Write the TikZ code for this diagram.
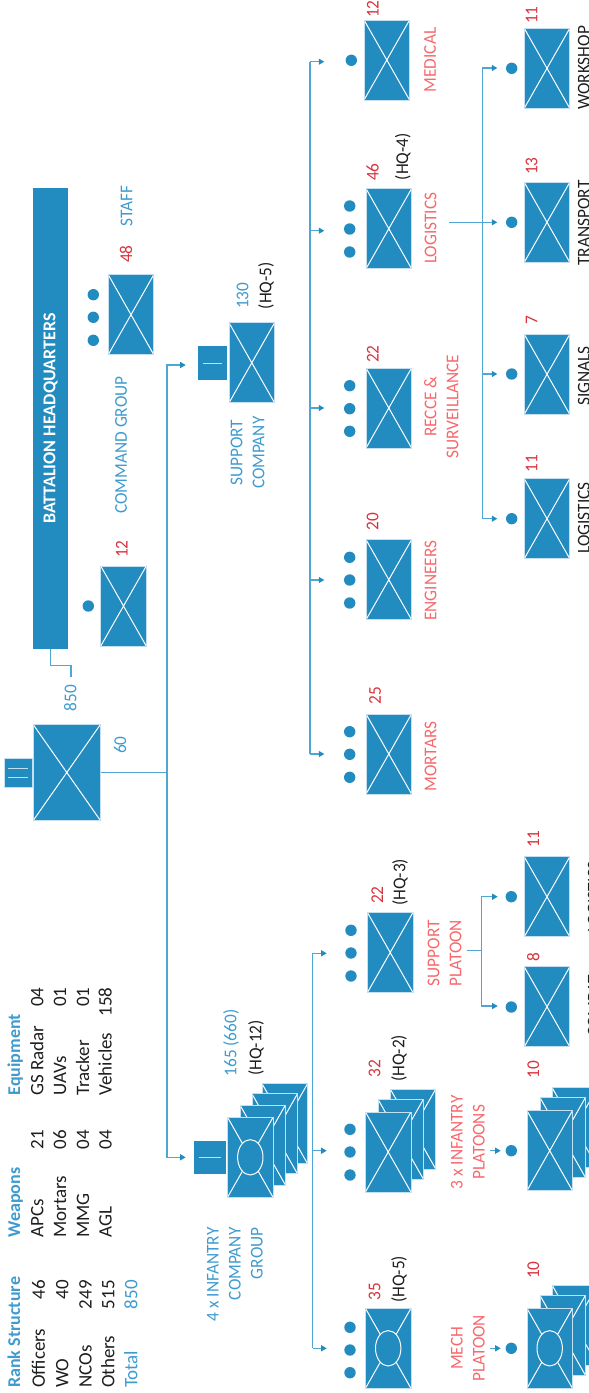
\documentclass[tikz,border=0pt]{standalone}
\usepackage{fontspec}
\setmainfont{Carlito}[FakeStretch=0.96]
\newfontfamily\plainf{Carlito}
\usetikzlibrary{arrows.meta}
\definecolor{unitblue}{HTML}{228BBF}
\definecolor{edgeblue}{HTML}{C4E0F0}
\definecolor{lineblue}{HTML}{4FA5D3}
\definecolor{textblue}{HTML}{3F9BCF}
\definecolor{numred}{HTML}{D8343F}
\definecolor{corald}{HTML}{F7686C}
\definecolor{inkk}{HTML}{1E1E1E}
\tikzset{
  unitbox/.style={rectangle,inner sep=0,minimum width=45.5pt,minimum height=80pt,fill=unitblue,draw=edgeblue,line width=.7pt,
    path picture={\draw[white,line width=1pt] (path picture bounding box.north west)--(path picture bounding box.south east)
      (path picture bounding box.north east)--(path picture bounding box.south west);}},
  mechbox/.style={unitbox,
    path picture={\draw[white,line width=1pt] (path picture bounding box.north west)--(path picture bounding box.south east)
      (path picture bounding box.north east)--(path picture bounding box.south west);
      \draw[white,line width=1pt,fill=unitblue] (path picture bounding box.center) circle [x radius=12.7pt,y radius=17.7pt];}},
  tabbox/.style={rectangle,inner sep=0,fill=unitblue,minimum width=31pt,minimum height=33pt,
    path picture={\draw[edgeblue,line width=.9pt] ([xshift=5pt]path picture bounding box.west)--([xshift=-5pt]path picture bounding box.east);}},
  dot/.style={circle,inner sep=0,minimum size=11.4pt,fill=unitblue},
  conn/.style={draw=lineblue,line width=1.1pt},
  tip/.style={-{Triangle[length=5.5pt,width=6pt,fill=unitblue,color=unitblue]}},
  lab/.style={rotate=90,inner sep=0,align=center,font=\fontsize{18}{22}\selectfont},
  num/.style={lab,text=numred},
  blu/.style={lab,text=textblue},
  cor/.style={lab,text=corald},
  blk/.style={lab,text=inkk},
  tl/.style={blk,anchor=base west,font=\fontsize{19}{22}\selectfont\plainf},
  tr/.style={blk,anchor=base east,font=\fontsize{19}{22}\selectfont\plainf},
  th/.style={blu,anchor=base west,font=\fontsize{18}{22}\selectfont\plainf\bfseries},
}
\begin{document}
\begin{tikzpicture}[x=1pt,y=-1pt]
\path[use as bounding box,clip] (0,0) rectangle (589,1393);

% table
\node[th] (hr) at (20,1388) {Rank Structure};
\node[tl] (l1) at (45,1388) {Officers};
\node[tr] (n1) at (45,1280) {46};
\node[tl] (l2) at (68.3,1388) {WO};
\node[tr] (n2) at (68.3,1280) {40};
\node[tl] (l3) at (91.7,1388) {NCOs};
\node[tr] (n3) at (91.7,1280) {249};
\node[tl] (l4) at (114.3,1388) {Others};
\node[tr] (n4) at (114.3,1280) {515};
\node[tl,text=textblue] (l5) at (137.3,1388) {Total};
\node[tr,text=textblue] (n5) at (137.3,1280) {850};
\node[th] (hw) at (20,1237.7) {Weapons};
\node[tl] (w1) at (43.3,1237.7) {APCs};
\node[tr] (wn1) at (43.3,1130) {21};
\node[tl] (w2) at (66,1237.7) {Mortars};
\node[tr] (wn2) at (66,1130) {06};
\node[tl] (w3) at (89,1237.7) {MMG};
\node[tr] (wn3) at (89,1130) {04};
\node[tl] (w4) at (111.7,1237.7) {AGL};
\node[tr] (wn4) at (111.7,1130) {04};
\node[th] (he) at (20,1095.7) {Equipment};
\node[tl] (e1) at (43.3,1095.7) {GS Radar};
\node[tr] (en1) at (43.3,987.3) {04};
\node[tl] (e2) at (66,1095.7) {UAVs};
\node[tr] (en2) at (66,987.3) {01};
\node[tl] (e3) at (89,1095.7) {Tracker};
\node[tr] (en3) at (89,987.3) {01};
\node[tl] (e4) at (111.7,1095.7) {Vehicles};
\node[tr] (en4) at (111.7,987.3) {158};

% battalion
\node[rectangle,rotate=90,inner sep=0,minimum width=461pt,minimum height=35pt,fill=unitblue,text=white,font=\fontsize{18}{20}\selectfont\plainf\bfseries] (hq) at (50.5,418.5) {BATTALION HEADQUARTERS};
\node[unitbox,minimum width=67pt,minimum height=95.7pt] (main) at (66.8,772.5) {};
\node[tabbox,minimum width=28.3pt,minimum height=29.4pt,draw=edgeblue,line width=.7pt,
  path picture={\draw[edgeblue,line width=.9pt]
    ([xshift=4pt,yshift=4.8pt]path picture bounding box.west)--([xshift=-4pt,yshift=4.8pt]path picture bounding box.east)
    ([xshift=4pt,yshift=-4.8pt]path picture bounding box.west)--([xshift=-4pt,yshift=-4.8pt]path picture bounding box.east);}] (maintab) at (18.2,773) {};
\coordinate (c850) at (71,677.3);
\draw[conn] (hq.west) -- ++(0,16.7) -| (c850);
\node[blu] (t850) at (70.3,698.3) {850};
\node[blu] (t60) at (120,745) {60};

% command group
\node[dot] (d12) at (88.3,606) {};
\node[unitbox] (cg12) at (123.5,606) {};
\node[num] (t12a) at (121.7,549) {12};
\node[blu] (tcg) at (121,445) {COMMAND GROUP};
\node[dot] (st1) at (93.3,294.7) {};
\node[dot] (st2) at (93.3,317.3) {};
\node[dot] (st3) at (93.3,340.3) {};
\node[unitbox] (staff) at (131,314.7) {};
\node[num] (t48) at (126,254) {48};
\node[blu] (tstaff) at (126.7,205.7) {STAFF};

% main trunk
\coordinate (j0) at (167,772.5);
\coordinate (asup) at (185.7,365);
\coordinate (aic) at (185.7,1157.3);
\draw[conn] (main.east) -- (j0);
\draw[conn,tip] (j0) |- (asup);
\draw[conn,tip] (j0) |- (aic);

% support company
\node[tabbox,minimum width=29.3pt,minimum height=34pt] (suptab) at (212.7,363) {};
\node[unitbox] (sup) at (251.8,362.8) {};
\node[blu] (t130) at (242.7,295.7) {130};
\node[blk] (tsq) at (266,285.7) {(HQ-5)};
\node[blu] (tsup) at (247.7,452.7) {SUPPORT\\COMPANY};

% support trunk
\coordinate (s1) at (310,61.7);
\coordinate (s2) at (310,230.7);
\coordinate (s3) at (310,408);
\coordinate (s4) at (310,580);
\coordinate (s5) at (310,754);
\coordinate (a1) at (324.3,61.7);
\coordinate (a2) at (324.3,230.7);
\coordinate (a3) at (324.3,408);
\coordinate (a4) at (324.3,580);
\coordinate (a5) at (324.3,754);
\draw[conn] (s1) -- (s5);
\draw[conn,tip] (s1) -- (a1);
\draw[conn,tip] (s2) -- (a2);
\draw[conn,tip] (s3) -- (a3);
\draw[conn,tip] (s4) -- (a4);
\draw[conn,tip] (s5) -- (a5);

% medical
\node[dot] (dmed) at (351.3,60.3) {};
\node[unitbox] (med) at (386.8,60) {};
\node[num] (t12b) at (372.7,9) {12};
\node[cor] (tmed) at (430,60) {MEDICAL};
% logistics
\node[dot] (lg1) at (349.7,206) {};
\node[dot] (lg2) at (349.7,229) {};
\node[dot] (lg3) at (349.7,252) {};
\node[unitbox] (log) at (388.8,228.7) {};
\node[num] (t46) at (372.7,172) {46};
\node[blk] (tq4) at (402.7,156.7) {(HQ-4)};
\node[cor] (tlog) at (430.5,228.3) {LOGISTICS};
% recce
\node[dot] (rc1) at (349.7,385.7) {};
\node[dot] (rc2) at (349.7,408.7) {};
\node[dot] (rc3) at (349.7,431.3) {};
\node[unitbox] (rec) at (388.8,408) {};
\node[num] (t22a) at (372.7,354) {22};
\node[cor] (trec) at (441.3,406.7) {RECCE \&\\SURVEILLANCE};
% engineers
\node[dot] (en1d) at (349.7,557.3) {};
\node[dot] (en2d) at (349.7,580) {};
\node[dot] (en3d) at (349.7,603) {};
\node[unitbox] (eng) at (388.8,579.7) {};
\node[num] (t20) at (372.7,521.3) {20};
\node[cor] (teng) at (430.5,580.7) {ENGINEERS};
% mortars
\node[dot] (mo1) at (349.7,731.7) {};
\node[dot] (mo2) at (349.7,754.3) {};
\node[dot] (mo3) at (349.7,777.3) {};
\node[unitbox] (mor) at (388.8,754) {};
\node[num] (t25) at (375,695.7) {25};
\node[cor] (tmor) at (430.5,756.7) {MORTARS};

% logistics platoons
\coordinate (lst) at (449.3,222.3);
\coordinate (lj1) at (482.3,68);
\coordinate (lj2) at (482.3,222.3);
\coordinate (lj3) at (482.3,374);
\coordinate (lj4) at (482.3,518.7);
\coordinate (la1) at (497.3,68);
\coordinate (la2) at (497.3,222.3);
\coordinate (la3) at (497.3,374);
\coordinate (la4) at (497.3,518.7);
\draw[conn] (lj1) -- (lj4);
\draw[conn,tip] (lj1) -- (la1);
\draw[conn,tip] (lst) -- (la2);
\draw[conn,tip] (lj3) -- (la3);
\draw[conn,tip] (lj4) -- (la4);
\node[dot] (dw) at (511.7,68.3) {};
\node[unitbox] (wks) at (547,68.3) {};
\node[num] (t11a) at (531.7,15) {11};
\node[blk,anchor=south] (twks) at (590,68) {WORKSHOP};
\node[dot] (dt) at (511.7,222.3) {};
\node[unitbox] (trn) at (547,222.3) {};
\node[num] (t13) at (531.7,166) {13};
\node[blk,anchor=south] (ttrn) at (590,223) {TRANSPORT};
\node[dot] (dsg) at (511.7,374) {};
\node[unitbox] (sig) at (547,374.3) {};
\node[num] (t7) at (531.7,320) {7};
\node[blk,anchor=south] (tsig) at (590,376) {SIGNALS};
\node[dot] (dlp) at (511.7,518.7) {};
\node[unitbox] (lgp) at (547,518.7) {};
\node[num] (t11b) at (531.7,463.3) {11};
\node[blk,anchor=south] (tlgp) at (590,518) {LOGISTICS};

% infantry company group
\node[tabbox,minimum width=32pt] (ictab) at (210,1157.5) {};
\node[unitbox] (ic4) at (284.8,1123.7) {};
\node[unitbox] (ic3) at (274.7,1133.8) {};
\node[unitbox] (ic2) at (262.7,1145) {};
\node[mechbox] (ic1) at (250.3,1157.3) {};
\node[blu] (t165) at (231,1043) {165 (660)};
\node[blk] (tq12) at (256,1048) {(HQ-12)};
\node[blu,anchor=east,align=right] (tic) at (235,1227.3) {4 x INFANTRY\\COMPANY\\GROUP};

% infantry trunk
\coordinate (i1) at (312.5,953.3);
\coordinate (i2) at (312.5,1150.7);
\coordinate (i3) at (312.5,1348.3);
\coordinate (b1) at (326.7,953.3);
\coordinate (b2) at (326.7,1150.7);
\coordinate (b3) at (326.7,1348.3);
\draw[conn] (i1) -- (i3);
\draw[conn,tip] (i1) -- (b1);
\draw[conn,tip] (i2) -- (b2);
\draw[conn,tip] (i3) -- (b3);

% support platoon
\node[dot] (sp1) at (351,930.3) {};
\node[dot] (sp2) at (351,953) {};
\node[dot] (sp3) at (351,976) {};
\node[unitbox] (spt) at (390.2,952.5) {};
\node[num] (t22b) at (377.3,895) {22};
\node[blk] (tq3) at (400,882.3) {(HQ-3)};
\node[cor] (tspt) at (444.5,953.3) {SUPPORT\\PLATOON};
\coordinate (pst) at (467.3,950.7);
\coordinate (pj) at (481.7,950.7);
\coordinate (pa1) at (497.7,896.7);
\coordinate (pa2) at (497.7,1006);
\draw[conn] (pst) -- (pj);
\draw[conn,tip] (pj) |- (pa1);
\draw[conn,tip] (pj) |- (pa2);
\node[dot] (dp1) at (511.3,896.7) {};
\node[unitbox] (pb1) at (547,896.8) {};
\node[num] (t11c) at (533.3,839) {11};
\node[blk,anchor=south] (tp1) at (600,897) {LOGISTICS};
\node[dot] (dp2) at (511.3,1007) {};
\node[unitbox] (pb2) at (547,1006.8) {};
\node[num] (t8) at (533.3,957.3) {8};
\node[blk,anchor=south] (tp2) at (600,1006) {COMBAT};

% infantry platoons
\node[dot] (ip1) at (350,1129.3) {};
\node[dot] (ip2) at (350,1152) {};
\node[dot] (ip3) at (350,1175) {};
\node[unitbox] (ih3) at (413,1129) {};
\node[unitbox] (ih2) at (400.7,1139.2) {};
\node[unitbox] (ih1) at (388.2,1152) {};
\node[num] (t32) at (374.7,1068.3) {32};
\node[blk] (tq2) at (399,1058.3) {(HQ-2)};
\node[cor] (tipl) at (467.8,1142.3) {3 x INFANTRY\\PLATOONS};
\coordinate (q0) at (490,1150.7);
\coordinate (q1) at (500.7,1150.7);
\draw[conn,tip] (q0) -- (q1);
\node[dot] (dq) at (511.3,1150.7) {};
\node[unitbox] (ip3b) at (574.8,1127.5) {};
\node[unitbox] (ip2b) at (562.7,1137.5) {};
\node[unitbox] (ip1b) at (549.7,1150.7) {};
\node[num] (t10a) at (533.3,1069.3) {10};

% mech company
\node[dot] (mc1) at (350,1327.3) {};
\node[dot] (mc2) at (350,1350) {};
\node[dot] (mc3) at (350,1372.7) {};
\node[mechbox] (mc) at (388.2,1348.3) {};
\node[num] (t35) at (374.7,1291.7) {35};
\node[blk] (tq5) at (399,1279.3) {(HQ-5)};
\node[cor] (tmpl) at (467.8,1348.3) {MECH\\PLATOON};
\coordinate (m0) at (490,1348.3);
\coordinate (m1) at (500.7,1348.3);
\draw[conn,tip] (m0) -- (m1);
\node[dot] (dm) at (511.3,1348.3) {};
\node[unitbox] (mp3) at (574.8,1325) {};
\node[unitbox] (mp2) at (562.7,1335.3) {};
\node[mechbox] (mp1) at (549.7,1348.3) {};
\node[num] (t10b) at (533.3,1270) {10};
\end{tikzpicture}
\end{document}
